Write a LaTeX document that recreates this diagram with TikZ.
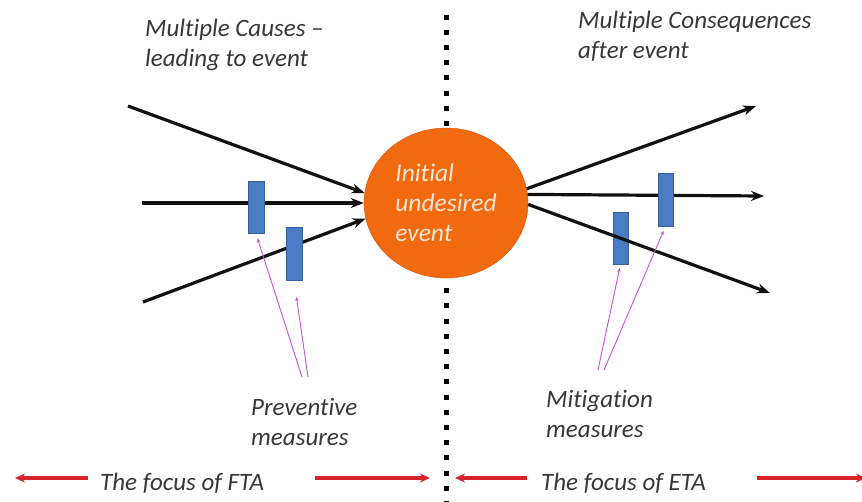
\documentclass[tikz,border=0pt]{standalone}
\usepackage{fontspec}
\setmainfont[Ligatures=CommonOff]{Carlito}
\usetikzlibrary{arrows.meta,positioning,shapes.geometric}
\definecolor{ink}{HTML}{111111}
\definecolor{txt}{HTML}{383838}
\definecolor{fire}{HTML}{F26A10}
\definecolor{fireedge}{HTML}{D0580C}
\definecolor{cream}{HTML}{FCE6D2}
\definecolor{barrier}{HTML}{4A7CC4}
\definecolor{barrieredge}{HTML}{34609E}
\definecolor{pointer}{HTML}{C850D8}
\definecolor{focus}{HTML}{D8232A}
\tikzset{
  event/.style={ellipse,draw=fireedge,fill=fire,minimum width=164pt,minimum height=150pt,inner sep=0pt,
    text=cream,font=\fontsize{25.5}{30}\selectfont\itshape,align=left},
  barrier/.style={draw=barrieredge,fill=barrier,minimum width=16pt,minimum height=52pt,inner sep=0pt},
  caption/.style={text=txt,font=\fontsize{25}{30}\selectfont\itshape,align=left,inner sep=0pt,anchor=north west},
  flow/.style={-{Stealth[length=13pt,width=10pt]},line width=3.2pt,draw=ink},
  hint/.style={-{Stealth[length=4pt,width=3.5pt]},line width=0.9pt,draw=pointer},
  span/.style={-{Stealth[length=10pt,width=9pt]},line width=3.6pt,draw=focus},
  divider/.style={line width=5pt,dash pattern=on 5pt off 10.2pt,draw=black}
}

\begin{document}
\begin{tikzpicture}[x=1pt,y=-1pt]
  \path[use as bounding box,fill=white] (0,0) rectangle (862,501);
  % dividing line between the two halves
  \coordinate (divtop) at (446,14.5);
  \coordinate (divbot) at (446,501);
  \draw[divider] (divtop) -- (divbot);
  \node[event] (event) at (446,203) {Initial\\undesired\\event};
  % causes and consequences
  \coordinate (c1) at (128,106); \coordinate (c2) at (142,203); \coordinate (c3) at (143,302);
  \coordinate (q1) at (756,106); \coordinate (q2) at (764,196); \coordinate (q3) at (770,293);
  \node[barrier,minimum width=15pt] (mb1) at (620.5,238) {};
  \draw[flow] (c1) -- (event.173); \draw[flow] (c2) -- (event.180); \draw[flow] (c3) -- (event.191);
  \draw[flow] (event.10) -- (q1); \draw[flow] (event.6) -- (q2); \draw[flow] (event.-1) -- (q3);
  \node[barrier] (pb1) at (256,207.5) {};
  \node[barrier,minimum height=53pt] (pb2) at (294,253.5) {};
  \node[barrier,minimum width=15pt,minimum height=53pt] (mb2) at (665.5,199.5) {};
  % texts
  \node[caption] (causes) at (145,19) {Multiple Causes --\\leading to event};
  \node[caption] (conseq) at (578,11) {Multiple Consequences\\after event};
  \node[caption] (prev) at (251,398) {Preventive\\measures};
  \node[caption] (mitig) at (546,390) {Mitigation\\measures};
  \node[caption] (fta) at (100,473) {The focus of FTA};
  \node[caption] (eta) at (541,473) {The focus of ETA};
  % pointers to the barriers
  \coordinate (h1) at (302,377); \coordinate (h2) at (308,377);
  \coordinate (h3) at (598,370); \coordinate (h4) at (604,370);
  \draw[hint,shorten >=5pt] (h1) -- (pb1.south);
  \draw[hint,shorten >=17pt] (h2) -- (pb2.south);
  \draw[hint,shorten >=4pt] (h3) -- (mb1.south);
  \draw[hint,shorten >=5pt] (h4) -- (mb2.south);
  % focus arrows
  \coordinate (f1) at (15,478); \coordinate (f2) at (88,478);
  \coordinate (f3) at (315,478); \coordinate (f4) at (430,478);
  \coordinate (e1) at (455,478); \coordinate (e2) at (527,478);
  \coordinate (e3) at (757,478); \coordinate (e4) at (866,478);
  \draw[span] (f2) -- (f1); \draw[span] (f3) -- (f4);
  \draw[span] (e2) -- (e1); \draw[span] (e3) -- (e4);
\end{tikzpicture}
\end{document}
